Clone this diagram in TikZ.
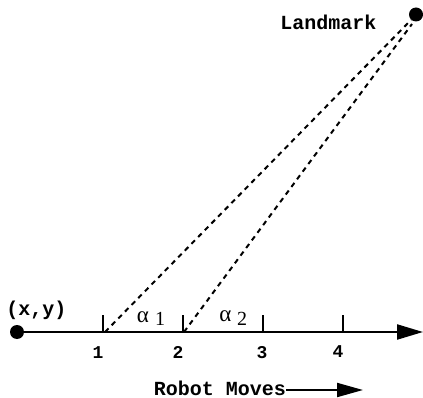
\documentclass[tikz,border=0pt]{standalone}
\usepackage{fontspec}
\setmonofont{Liberation Mono}
\newfontfamily\serfont{Liberation Serif}
\usetikzlibrary{arrows.meta}
\tikzset{
  lbl/.style={font=\ttfamily\bfseries\fontsize{20}{20}\selectfont, inner sep=0pt, anchor=base},
  num/.style={font=\ttfamily\bfseries\fontsize{18}{18}\selectfont, inner sep=0pt, anchor=base},
  grk/.style={font=\serfont\fontsize{23}{23}\selectfont, inner sep=0pt, anchor=base},
  grksub/.style={font=\serfont\fontsize{20}{20}\selectfont, inner sep=0pt, anchor=base},
  axisline/.style={line width=2.2pt, -{Triangle[length=26pt,width=15pt]}},
  tickmark/.style={line width=1.8pt},
  sight/.style={line width=2pt, dash pattern=on 5pt off 4.5pt},
  dotfill/.style={fill=black, draw=none}
}
\begin{document}
\begin{tikzpicture}[x=1pt,y=-1pt]
\useasboundingbox (0,0) rectangle (423,398);
% points
\coordinate (O) at (17,332);
\coordinate (E) at (423,332);
\coordinate (L) at (416,14.5);
\coordinate (t1) at (103,332);
\coordinate (t2) at (183,332);
\coordinate (t3) at (263,332);
\coordinate (t4) at (343,332);
\coordinate (s1) at (105,332);
\coordinate (s2) at (184,332);
\coordinate (e1) at (411,20);
\coordinate (e2) at (412,24);
% axis
\draw[axisline] (O) -- (E);
\fill[dotfill] (O) circle (7);
\fill[dotfill] (L) circle (7);
\foreach \t in {t1,t2,t3,t4} \draw[tickmark] (\t) -- ++(0,-17);
% sight lines
\draw[sight] (s1) -- (e1);
\draw[sight] (s2) -- (e2);
% labels
\node[lbl] (land) at (328.5,30) {Landmark};
\node[lbl] (xy) at (36.5,315) {(x,y)};
\node[num] (n1) at (98,358) {1};
\node[num] (n2) at (178,358) {2};
\node[num] (n3) at (262,358) {3};
\node[num] (n4) at (338,357) {4};
\node[grk] (a1) at (143,322) {α};
\node[grksub] (a1s) at (160,325) {1};
\node[grk] (a2) at (225.5,321) {α};
\node[grksub] (a2s) at (242,325) {2};
\node[lbl] (rm) at (220,395) {Robot Moves};
\coordinate (rmend) at (363,390);
\draw[line width=2pt, -{Triangle[length=26pt,width=14pt]}] (rm.east |- rmend) -- (rmend);
\end{tikzpicture}
\end{document}
